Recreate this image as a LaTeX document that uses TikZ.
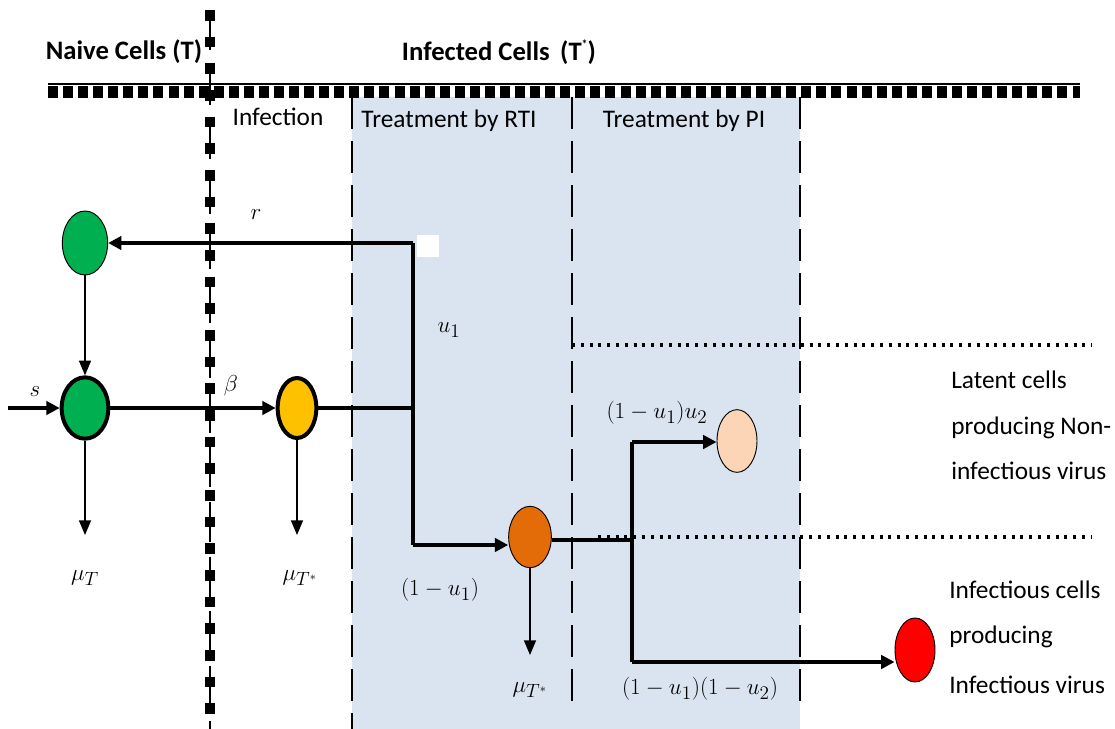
\documentclass[tikz,border=0pt]{standalone}
\usepackage{fontspec}
\setmainfont{Carlito}
\usetikzlibrary{shapes.geometric,arrows.meta}
\definecolor{regionblue}{HTML}{DAE3F0}
\definecolor{cgreen}{HTML}{00B050}
\definecolor{cyellow}{HTML}{FFC000}
\definecolor{corange}{HTML}{E36C09}
\definecolor{cpeach}{HTML}{FBD5B5}
\definecolor{cred}{HTML}{FF0000}
\begin{document}
\begin{tikzpicture}[x=0.75pt,y=-0.75pt,
  cell/.style={ellipse, draw=black, line width=0.7pt, inner sep=0pt},
  boldcell/.style={cell, line width=3pt},
  flow/.style={line width=3.3pt, -{Triangle[length=10pt,width=10pt]}},
  flowline/.style={line width=3.3pt},
  loss/.style={line width=1pt, -{Triangle[length=11pt,width=9pt]}},
  txt/.style={font=\fontsize{19}{22}\selectfont, inner sep=0pt},
  title/.style={font=\bfseries\fontsize{20}{23}\selectfont, inner sep=0pt},
  mlbl/.style={font=\fontsize{19}{22}\selectfont, inner sep=0pt},
  region/.style={line width=2pt, dash pattern=on 24pt off 9pt},
  sep/.style={line width=2.6pt, dash pattern=on 2.2pt off 4.4pt}]
\useasboundingbox (0,0) rectangle (1115,729);
% shaded treatment region
\fill[regionblue] (352,97) rectangle (800,729);
% region borders
\draw[region] (352,97) -- (352,729);
\draw[region] (572,97) -- (572,705);
\draw[region] (800,97) -- (800,705);
% top boundary
\draw[line width=0.8pt] (48,84) -- (1080,84);
\draw[line width=9pt, dash pattern=on 7.5pt off 3.8pt] (48,92) -- (1080,92);
% separators on the right
\draw[sep] (572,345) -- (1092,345);
\draw[sep] (598,537) -- (1092,537);
% phase divider
\draw[line width=0.9pt, dash pattern=on 30pt off 11pt] (210,10) -- (210,729);
\draw[line width=7pt, dash pattern=on 8pt off 12pt] (210,10) -- (210,729);
% headings
\node[title] (hnaive) at (124,52) {Naive Cells (T)};
\node[title] (hinf) at (499,52) {Infected Cells\, (T\raisebox{0.9ex}{\fontsize{9}{9}\selectfont *})};
\node[txt] (hinfection) at (278,117) {Infection};
\node[txt] (hrti) at (449,121) {Treatment by RTI};
\node[txt] (hpi) at (684,121) {Treatment by PI};
% cells
\node[cell, fill=cgreen, minimum width=34pt, minimum height=48pt] (gt) at (85,243) {};
\node[boldcell, fill=cgreen, minimum width=35pt, minimum height=46pt] (gm) at (85,408) {};
\node[boldcell, fill=cyellow, minimum width=29pt, minimum height=45pt] (ye) at (297,408) {};
\node[cell, fill=corange, minimum width=32pt, minimum height=46pt] (or) at (530,537) {};
\node[cell, fill=cpeach, minimum width=30pt, minimum height=47pt] (pe) at (737,441) {};
\node[cell, fill=cred, minimum width=30pt, minimum height=48pt] (re) at (915,650) {};
% junctions
\coordinate (src) at (8,408);
\coordinate (j) at (413,408);
\coordinate (jt) at (413,243);
\coordinate (jb) at (413,545);
\coordinate (k) at (632,540);
\coordinate (kt) at (632,442);
\coordinate (kb) at (632,662);
\node[fill=white, minimum width=17pt, minimum height=16pt, inner sep=0pt] (wsq) at (428,246) {};
% flows
\draw[flow] (src) -- (gm);
\draw[flow] (gm) -- (ye);
\draw[flowline] (ye) -- (j);
\draw[flowline, line join=round] (jb) -- (jt);
\draw[flow] (jt) -- (gt);
\draw[flow] (jb) -- (jb -| or.west);
\draw[flowline] (or.east |- k) -- (k);
\draw[flowline] (kt) -- (kb);
\draw[flow] (kt) -- (kt -| pe.west);
\draw[flow] (kb) -- (kb -| re.west);
% losses
\draw[loss] (gt) -- (gm);
\coordinate (lg) at (85,535);
\coordinate (ly) at (297,535);
\coordinate (lo) at (530,655);
\draw[loss] (gm) -- (lg);
\draw[loss] (ye) -- (ly);
\draw[loss] (or) -- (lo);
% rate labels
\node[mlbl] (ls) at (35,392) {$s$};
\node[mlbl] (lbeta) at (231,386) {$\beta$};
\node[mlbl] (lr) at (256,215) {$r$};
\node[mlbl] (lu1) at (449,330) {$u_1$};
\node[mlbl] (l1u1) at (440,590) {$(1-u_1)$};
\node[mlbl] (lmt) at (85,578) {$\mu_T$};
\node[mlbl] (lmts) at (300,578) {$\mu_{T^*}$};
\node[mlbl] (lmts2) at (530,690) {$\mu_{T^*}$};
\node[mlbl] (lpe) at (657,413) {$(1-u_1)u_2$};
\node[mlbl] (lre) at (700,689) {$(1-u_1)(1-u_2)$};
% right-hand descriptions
\node[txt, anchor=west] (d1) at (951,380) {Latent cells};
\node[txt, anchor=west] (d2) at (951,428) {producing Non-};
\node[txt, anchor=west] (d3) at (951,471) {infectious virus};
\node[txt, anchor=west] (d4) at (949,590) {Infectious cells};
\node[txt, anchor=west] (d5) at (949,637) {producing};
\node[txt, anchor=west] (d6) at (949,685) {Infectious virus};
\end{tikzpicture}
\end{document}
